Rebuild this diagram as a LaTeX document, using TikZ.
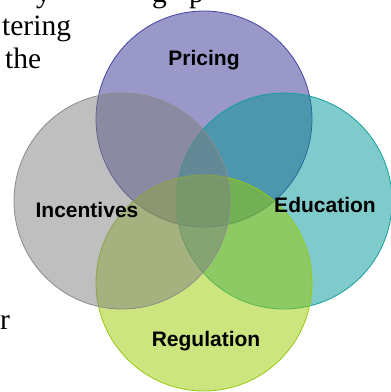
\documentclass[tikz,border=0pt]{standalone}
\usepackage{fontspec}
\setmainfont{Liberation Serif}
\setsansfont{Liberation Sans}
\usetikzlibrary{positioning}

\definecolor{pricefill}{RGB}{53,47,147}
\definecolor{priceline}{RGB}{70,70,165}
\definecolor{edufill}{RGB}{0,149,149}
\definecolor{eduline}{RGB}{20,160,160}
\definecolor{regfill}{RGB}{155,203,0}
\definecolor{regline}{RGB}{150,200,20}
\definecolor{incfill}{RGB}{127,127,127}
\definecolor{incline}{RGB}{140,140,140}

\begin{document}
\begin{tikzpicture}[x=1pt, y=-1pt,
  venn/.style={circle, draw, line width=0.8pt, minimum size=216pt, inner sep=0pt, fill opacity=0.5},
  tag/.style={font=\sffamily\bfseries\fontsize{21}{25}\selectfont, inner sep=0pt},
  page/.style={font=\fontsize{29.5}{33}\selectfont, inner sep=0pt, anchor=base west}]
\useasboundingbox (0,0) rectangle (391,392);
% bits of the page text round the figure
\draw
  node[page] at (36,2)(ly) {y}
  node[page] at (152,2)(lg) {g}
  node[page] at (189,2)(lp) {p}
  node[page] at (2,35)(ltering) {tering}
  node[page] at (5,68)(lthe) {the}
  node[page] at (0,329)(lr) {r};
% the four circles
\draw
  node[venn, draw=priceline, fill=pricefill] at (204,119)(pricing) {}
  node[venn, draw=eduline, fill=edufill] at (284,201)(education) {}
  node[venn, draw=regline, fill=regfill] at (204,283)(regulation) {}
  node[venn, draw=incline, fill=incfill] at (122,201)(incentives) {};
% labels
\draw
  node[tag] at (204,60)(tpricing) {Pricing}
  node[tag] at (87,210)(tincentives) {Incentives}
  node[tag] at (325,205)(teducation) {Education}
  node[tag] at (206,341)(tregulation) {Regulation};
\end{tikzpicture}
\end{document}
